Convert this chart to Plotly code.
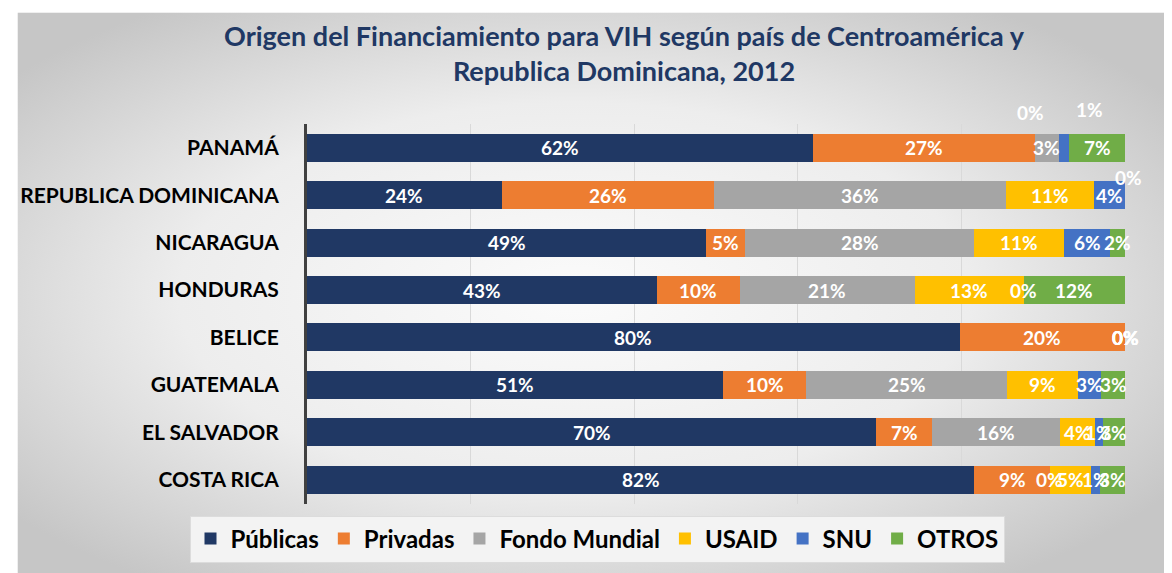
import base64
import plotly.graph_objects as go

# ---------------- data ----------------
countries = ["COSTA RICA", "EL SALVADOR", "GUATEMALA", "BELICE",
             "HONDURAS", "NICARAGUA", "REPUBLICA DOMINICANA", "PANAMÁ"]
series_names = ["Públicas", "Privadas", "Fondo Mundial", "USAID", "SNU", "OTROS"]

publicas = [81.6, 69.6, 50.9, 79.8, 42.8, 48.8, 23.8, 61.9]
privadas = [9.2, 6.8, 10.1, 20.2, 10.1, 4.8, 25.9, 27.1]
fondo_mundial = [0.0, 15.6, 24.6, 0.0, 21.4, 27.9, 35.8, 2.9]
usaid = [5.0, 4.3, 8.6, 0.0, 13.3, 11.1, 10.7, 0.0]
snu = [1.1, 1.0, 2.9, 0.0, 0.0, 5.6, 3.8, 1.3]
otros = [3.1, 2.7, 2.9, 0.0, 12.4, 1.8, 0.0, 6.8]
series_values = [publicas, privadas, fondo_mundial, usaid, snu, otros]

# ---------------- styles ----------------
colors = ["#203864", "#ED7D31", "#A5A5A5", "#FFC000", "#4472C4", "#70AD47"]
FONT = "Lato"
# manually displaced labels in the original (pixel offsets: dx, dy)
label_offsets = {
    ("PANAMÁ", "USAID"): (-28, 35),
    ("PANAMÁ", "SNU"): (25, 38),
    ("REPUBLICA DOMINICANA", "OTROS"): (3, 18),
}

W, H = 1172, 573
ML, MR, MT, MB = 292, 55, 116, 76
PW, PH = W - ML - MR, H - MT - MB


def px_x(px):
    return (px - ML) / PW


def px_y(py):
    return (H - MB - py) / PH


fig = go.Figure()
for name, vals, col in zip(series_names, series_values, colors):
    fig.add_trace(go.Bar(
        name=name, y=countries, x=vals, orientation="h",
        marker=dict(color=col, line=dict(width=0)),
        hoverinfo="x+y+name",
    ))

# data labels computed from the data through the axis scale
annotations = []
cum = [0.0] * len(countries)
for name, vals in zip(series_names, series_values):
    for j, c in enumerate(countries):
        v = vals[j]
        dx, dy = label_offsets.get((c, name), (0, 0))
        annotations.append(dict(
            x=cum[j] + v / 2, y=c, xref="x", yref="y",
            text=f"{v:.0f}%", showarrow=False,
            font=dict(family=FONT, size=19, color="white", weight="bold"),
            xshift=dx, yshift=dy,
        ))
        cum[j] += v

# radial-gradient background as an inline SVG image
svg = (
    '<svg xmlns="http://www.w3.org/2000/svg" width="1172" height="569">'
    '<defs><radialGradient id="g" cx="48%" cy="50%" r="62%">'
    '<stop offset="0" stop-color="#fbfbfb"/>'
    '<stop offset="0.55" stop-color="#ededed"/>'
    '<stop offset="1" stop-color="#c6c6c6"/>'
    '</radialGradient></defs>'
    '<rect width="1172" height="569" fill="url(#g)"/></svg>'
)
src = "data:image/svg+xml;base64," + base64.b64encode(svg.encode()).decode()

fig.update_layout(
    width=W, height=H,
    margin=dict(l=ML, r=MR, t=MT, b=MB),
    paper_bgcolor="white",
    plot_bgcolor="rgba(0,0,0,0)",
    barmode="stack",
    bargap=0.41,
    images=[dict(source=src, xref="paper", yref="paper",
                 x=px_x(0), y=px_y(4), sizex=W / PW, sizey=(H - 4) / PH,
                 xanchor="left", yanchor="top", sizing="stretch", layer="below")],
    title=dict(
        text="Origen del Financiamiento para VIH según país de Centroamérica y<br>Republica Dominicana, 2012",
        x=616 / W, xanchor="center", xref="container",
        y=1 - 38 / H, yanchor="middle", yref="container",
        font=dict(family=FONT, size=27, color="#203864", weight="bold"),
    ),
    xaxis=dict(range=[0, 100], showticklabels=False, showgrid=True, dtick=20,
               gridcolor="#d9d9d9", gridwidth=1, zeroline=False, showline=False,
               fixedrange=True),
    yaxis=dict(range=[-0.5, 7.5], autorange=False,
               showline=True, linecolor="#404040", linewidth=3,
               ticks="", ticklabelstandoff=21,
               tickfont=dict(family=FONT, size=21, color="black", weight="bold"),
               showgrid=False, fixedrange=True),
    legend=dict(orientation="h", xref="container", yref="container",
                x=589 / W, xanchor="center", y=1 - 531 / H, yanchor="middle",
                bgcolor="#f3f3f3", bordercolor="#dcdcdc", borderwidth=1,
                font=dict(family=FONT, size=24, color="black", weight="bold"),
                traceorder="normal", itemwidth=30),
    annotations=annotations,
    showlegend=True,
)

fig.write_html("out.html")
